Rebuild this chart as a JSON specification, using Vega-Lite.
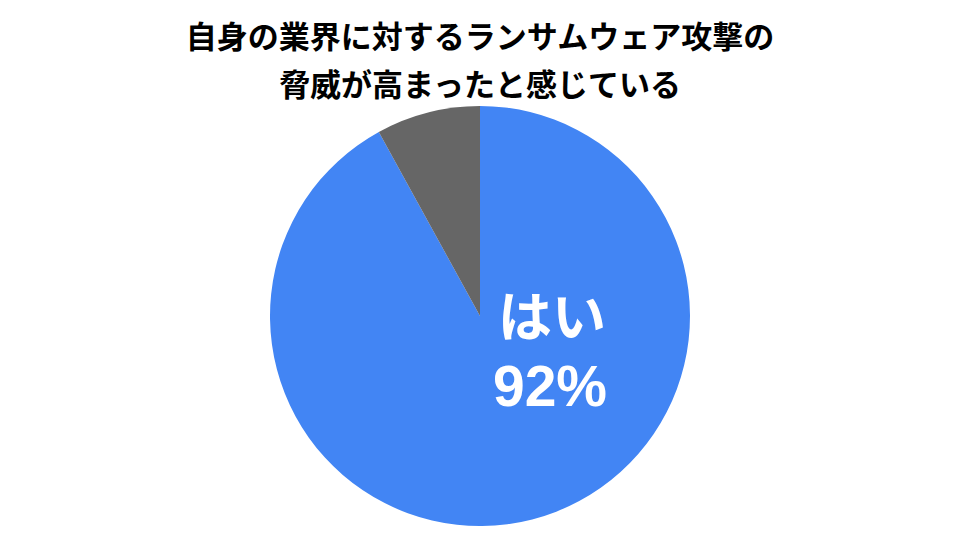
{
  "$schema": "https://vega.github.io/schema/vega-lite/v6.json",
  "width": 960,
  "height": 540,
  "autosize": {"type": "fit", "contains": "padding"},
  "padding": {"top": 23, "left": 0, "right": 0, "bottom": 11},
  "background": "white",
  "title": {
    "text": ["自身の業界に対するランサムウェア攻撃の", "脅威が高まったと感じている"],
    "font": "Noto Sans CJK JP",
    "fontSize": 31,
    "fontWeight": "bold",
    "color": "#000000",
    "lineHeight": 48,
    "anchor": "middle",
    "offset": 0
  },
  "data": {
    "values": [
      {"category": "はい", "share": 0.92},
      {"category": "いいえ", "share": 0.08}
    ]
  },
  "view": {"stroke": null},
  "layer": [
    {
      "mark": {"type": "arc", "outerRadius": 210},
      "encoding": {
        "theta": {"field": "share", "type": "quantitative", "stack": true},
        "order": {"field": "category", "sort": "descending"},
        "color": {
          "field": "category",
          "type": "nominal",
          "scale": {"domain": ["はい", "いいえ"], "range": ["#4285F4", "#666666"]},
          "legend": null
        }
      }
    },
    {
      "transform": [{"filter": "datum.category === 'はい'"}],
      "mark": {"type": "text", "font": "Noto Sans CJK JP", "fontSize": 54, "fontWeight": "bold", "color": "white", "baseline": "middle", "align": "center", "dx": 72, "dy": 5},
      "encoding": {"text": {"field": "category"}}
    },
    {
      "transform": [{"filter": "datum.category === 'はい'"}],
      "mark": {"type": "text", "font": "Liberation Sans", "fontSize": 57, "fontWeight": "bold", "color": "white", "baseline": "middle", "align": "center", "dx": 70, "dy": 73},
      "encoding": {"text": {"field": "share", "format": ".0%"}}
    }
  ]
}
